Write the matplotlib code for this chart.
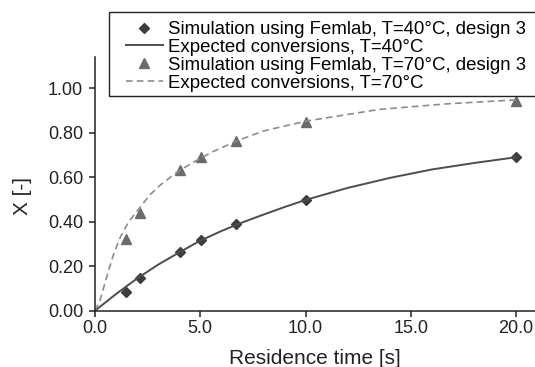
import matplotlib
matplotlib.use("Agg")
import matplotlib.pyplot as plt
from matplotlib.patches import Rectangle

plt.rcParams['font.family'] = ['Liberation Sans', 'DejaVu Sans']

# Femlab simulation results, design 3
t_sim = [1.45, 2.12, 4.04, 5.02, 6.68, 10.0, 20.0]
x_sim_40 = [0.085, 0.146, 0.263, 0.318, 0.388, 0.498, 0.690]
x_sim_70 = [0.321, 0.438, 0.633, 0.692, 0.762, 0.848, 0.944]

# Expected conversion curves
t_exp_40 = [0.0, 1.0, 2.0, 3.0, 4.0, 5.0, 6.0, 7.0, 8.0, 9.0, 10.0, 12.0, 14.0, 16.0, 18.0, 20.0]
x_exp_40 = [0.0, 0.075, 0.145, 0.207, 0.262, 0.315, 0.358, 0.397, 0.432, 0.466, 0.498,
            0.552, 0.597, 0.635, 0.664, 0.690]
t_exp_70 = [0.0, 0.25, 0.55, 0.87, 1.2, 1.6, 2.1, 2.6, 3.1, 4.0, 5.0, 5.6, 6.7, 8.0,
            10.0, 13.5, 16.7, 20.0]
x_exp_70 = [0.0, 0.05, 0.15, 0.25, 0.33, 0.40, 0.46, 0.52, 0.565, 0.63, 0.685, 0.715,
            0.762, 0.808, 0.852, 0.905, 0.930, 0.948]

labels = ['Simulation using Femlab, T=40°C, design 3',
          'Expected conversions, T=40°C',
          'Simulation using Femlab, T=70°C, design 3',
          'Expected conversions, T=70°C']

W, H = 535, 367
fig = plt.figure(figsize=(W / 100, H / 100), dpi=100)
ax = fig.add_axes([95 / W, 56.3 / H, 440 / W, 254 / H])

ax.plot(t_sim, x_sim_40, 'D', color='#3d3d3d', markersize=5.5, linestyle='none', label=labels[0])
ax.plot(t_exp_40, x_exp_40, '-', color='#4d4d4d', linewidth=1.4, label=labels[1])
ax.plot(t_sim, x_sim_70, '^', color='#6b6b6b', markersize=7.5, linestyle='none', label=labels[2])
ax.plot(t_exp_70, x_exp_70, '--', color='#8c8c8c', linewidth=1.2, dashes=(4, 2.5), label=labels[3])

ax.set_xlim(0, 440 / 21.05)
ax.set_ylim(0, 254 / 222.4)
ax.set_xticks([0, 5, 10, 15, 20])
ax.set_xticklabels(['0.0', '5.0', '10.0', '15.0', '20.0'])
ax.set_yticks([0, 0.2, 0.4, 0.6, 0.8, 1.0])
ax.set_yticklabels(['0.00', '0.20', '0.40', '0.60', '0.80', '1.00'])
ax.spines['top'].set_visible(False)
ax.spines['right'].set_visible(False)
for s in ('left', 'bottom'):
    ax.spines[s].set_linewidth(1.1)
    ax.spines[s].set_color('#222222')
ax.tick_params(direction='out', length=4, width=1.1, labelsize=13, colors='#222222')
ax.tick_params(axis='y', pad=4.5)
ax.tick_params(axis='x', pad=3)

# axis titles
fig.text(315 / W, 1 - 364 / H, 'Residence time [s]', fontsize=15, ha='center', va='baseline',
         color='#222222')
fig.text(23 / W, 1 - 196 / H, 'X [-]', fontsize=15, ha='center', va='center', rotation=90,
         color='#222222')

# legend box, open on the right
box = Rectangle((109 / W, 1 - 95.7 / H), 440 / W, 83.4 / H, transform=fig.transFigure,
                facecolor='white', edgecolor='#222222', linewidth=1.0, clip_on=False)
fig.add_artist(box)
leg = fig.legend(loc='upper left', bbox_to_anchor=(125.7 / W, 1 - 21 / H),
                 fontsize=13.4, frameon=False, handlelength=2.0, handletextpad=0.27,
                 labelspacing=0.05, borderpad=0, borderaxespad=0)

fig.savefig('out.png', dpi=100)
